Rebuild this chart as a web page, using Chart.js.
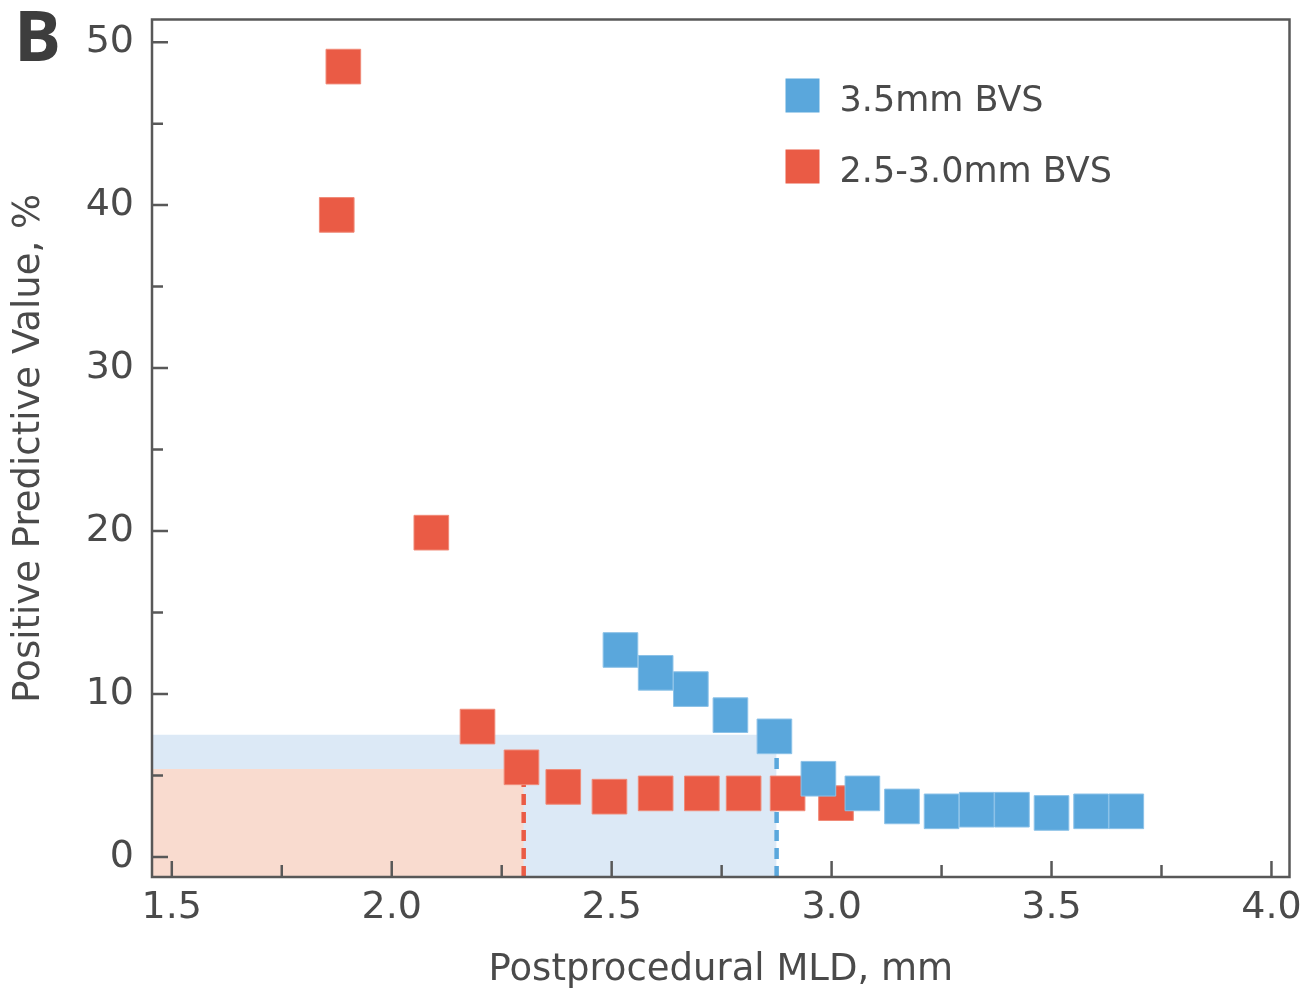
<!DOCTYPE html>
<html>
<head>
<meta charset="utf-8">
<script src="https://cdn.jsdelivr.net/npm/chart.js@4.4.1/dist/chart.umd.min.js"></script>
<style>
	html, body { margin: 0; padding: 0; background: #fff; }
	body { width: 1305px; height: 991px; overflow: hidden; position: relative; }
	/* Chart.js keeps a label padding of ~26px at top/right, so the canvas is made a
	   little bigger and shifted to put the plot frame where the figure has it */
	#wrap { width: 1315px; height: 997px; position: absolute; left: 0; top: -6px; }
</style>
</head>
<body>
<div id="wrap"><canvas id="ppvChart"></canvas></div>
<script>
'use strict';

// 3.5mm BVS
const mld35 = [2.52, 2.60, 2.68, 2.77, 2.87, 2.97, 3.07, 3.16, 3.25, 3.33, 3.41, 3.50, 3.59, 3.67];
const ppv35 = [12.7, 11.3, 10.3, 8.7, 7.4, 4.8, 3.9, 3.1, 2.8, 2.9, 2.9, 2.7, 2.8, 2.8];

// 2.5-3.0mm BVS
const mld25 = [1.89, 1.875, 2.09, 2.195, 2.295, 2.39, 2.495, 2.60, 2.705, 2.80, 2.90, 3.01];
const ppv25 = [48.5, 39.4, 19.9, 8.0, 5.5, 4.3, 3.7, 3.9, 3.9, 3.9, 3.9, 3.3];

// cut-off points (MLD, PPV) marked by the shaded areas
const cut35 = [2.875, 7.5];
const cut25 = [2.30, 5.4];

const seriesLabels = ['3.5mm BVS', '2.5-3.0mm BVS'];
const xRange = [1.455, 4.041];
const yRange = [-1.23, 51.39];

const blue = '#5aa7dc';
const red = '#ea5b45';
const blueFill = '#dce9f6';
const redFill = '#f9dbcf';
const textColor = '#4a4a4a';
const axisColor = '#585858';
const fontFamily = '"DejaVu Sans", sans-serif';

const toPoints = (xs, ys) => xs.map((v, i) => ({x: v, y: ys[i]}));

const frameAndTicks = {
	id: 'frameAndTicks',
	afterDatasetsDraw(chart) {
		const {ctx, chartArea: a, scales: {x, y}} = chart;
		ctx.save();
		ctx.strokeStyle = axisColor;
		ctx.lineWidth = 2.5;
		ctx.beginPath();
		x.ticks.forEach(t => {
			const px = x.getPixelForValue(t.value);
			ctx.moveTo(px, a.bottom);
			ctx.lineTo(px, a.bottom - 16);
			const mv = t.value + 0.25;
			if (mv < x.max) {
				const pm = x.getPixelForValue(mv);
				ctx.moveTo(pm, a.bottom);
				ctx.lineTo(pm, a.bottom - 12);
			}
		});
		y.ticks.forEach(t => {
			const py = y.getPixelForValue(t.value);
			ctx.moveTo(a.left, py);
			ctx.lineTo(a.left + 16, py);
			const mv = t.value + 5;
			if (mv < y.max) {
				const pm = y.getPixelForValue(mv);
				ctx.moveTo(a.left, pm);
				ctx.lineTo(a.left + 11, pm);
			}
		});
		ctx.stroke();
		ctx.strokeRect(a.left, a.top, a.width, a.height);
		ctx.restore();
	},
	afterDraw(chart) {
		const {ctx, chartArea: a} = chart;
		ctx.save();
		// legend
		const colors = [blue, red];
		ctx.font = '35px ' + fontFamily;
		ctx.textBaseline = 'middle';
		seriesLabels.forEach((lbl, i) => {
			const bx = a.right - 504;
			const by = a.top + 59 + i * 71;
			ctx.fillStyle = colors[i];
			ctx.fillRect(bx, by, 34, 34);
			ctx.fillStyle = textColor;
			ctx.fillText(lbl, bx + 54, by + 23);
		});
		// panel letter
		ctx.font = 'bold 70px "Open Sans", sans-serif';
		ctx.textBaseline = 'alphabetic';
		ctx.fillStyle = '#3d3d3d';
		ctx.fillText('B', 14, a.top + 41);
		ctx.restore();
	}
};

const setUpChart = () => {
	const ctx = document.getElementById('ppvChart').getContext('2d');
	const markerRadius = 24.5;
	return new Chart(ctx, {
		type: 'scatter',
		data: {
			datasets: [
				{
					label: seriesLabels[0],
					data: toPoints(mld35, ppv35),
					pointStyle: 'rect',
					pointRadius: markerRadius,
					backgroundColor: blue,
					borderColor: '#8cc2e8',
					pointBorderWidth: 1,
					order: 0,
				},
				{
					label: seriesLabels[1],
					data: toPoints(mld25, ppv25),
					pointStyle: 'rect',
					pointRadius: markerRadius,
					backgroundColor: red,
					borderColor: '#f08a78',
					pointBorderWidth: 1,
					order: 1,
				},
				{
					type: 'line',
					data: toPoints([cut35[0], cut35[0]], [yRange[0], cut35[1]]),
					borderColor: blue,
					borderWidth: 4.5,
					borderDash: [11, 7],
					pointRadius: 0,
					fill: false,
					order: 2,
				},
				{
					type: 'line',
					data: toPoints([cut25[0], cut25[0]], [yRange[0], cut25[1]]),
					borderColor: red,
					borderWidth: 4.5,
					borderDash: [11, 7],
					pointRadius: 0,
					fill: false,
					order: 2,
				},
				{
					type: 'line',
					data: toPoints([xRange[0], cut25[0]], [cut25[1], cut25[1]]),
					borderWidth: 0,
					pointRadius: 0,
					backgroundColor: redFill,
					fill: 'start',
					order: 3,
				},
				{
					type: 'line',
					data: toPoints([xRange[0], cut35[0]], [cut35[1], cut35[1]]),
					borderWidth: 0,
					pointRadius: 0,
					backgroundColor: blueFill,
					fill: 'start',
					order: 4,
				},
			],
		},
		options: {
			responsive: true,
			maintainAspectRatio: false,
			animation: false,
			layout: {padding: {top: 14, right: 6, left: 0, bottom: 0}},
			plugins: {
				legend: {display: false},
				tooltip: {enabled: false},
			},
			scales: {
				x: {
					type: 'linear',
					min: xRange[0],
					max: xRange[1],
					afterFit: scale => {
						scale.height = 114;
						scale.paddingLeft = 0;
						scale.paddingRight = 0;
					},
					grid: {display: false, drawTicks: false},
					border: {display: false},
					ticks: {
						stepSize: 0.5,
						includeBounds: false,
						autoSkip: false,
						maxRotation: 0,
						padding: 8,
						color: textColor,
						font: {family: fontFamily, size: 38},
						callback: v => v.toFixed(1),
					},
					title: {
						display: true,
						text: 'Postprocedural MLD, mm',
						color: textColor,
						font: {family: fontFamily, size: 37, lineHeight: 1.1},
						padding: {top: 0, bottom: 0},
					},
				},
				y: {
					type: 'linear',
					min: yRange[0],
					max: yRange[1],
					afterFit: scale => {
						scale.width = 152;
						scale.paddingTop = 0;
						scale.paddingBottom = 0;
					},
					grid: {display: false, drawTicks: false},
					border: {display: false},
					ticks: {
						stepSize: 10,
						includeBounds: false,
						autoSkip: false,
						padding: 18,
						color: textColor,
						font: {family: fontFamily, size: 38},
						callback: v => String(v),
					},
					title: {
						display: true,
						text: 'Positive Predictive Value, %',
						color: textColor,
						font: {family: fontFamily, size: 37, lineHeight: 1.2},
						padding: {top: 7, bottom: 0},
					},
				},
			},
		},
		plugins: [frameAndTicks],
	});
};

setUpChart();
</script>
</body>
</html>
